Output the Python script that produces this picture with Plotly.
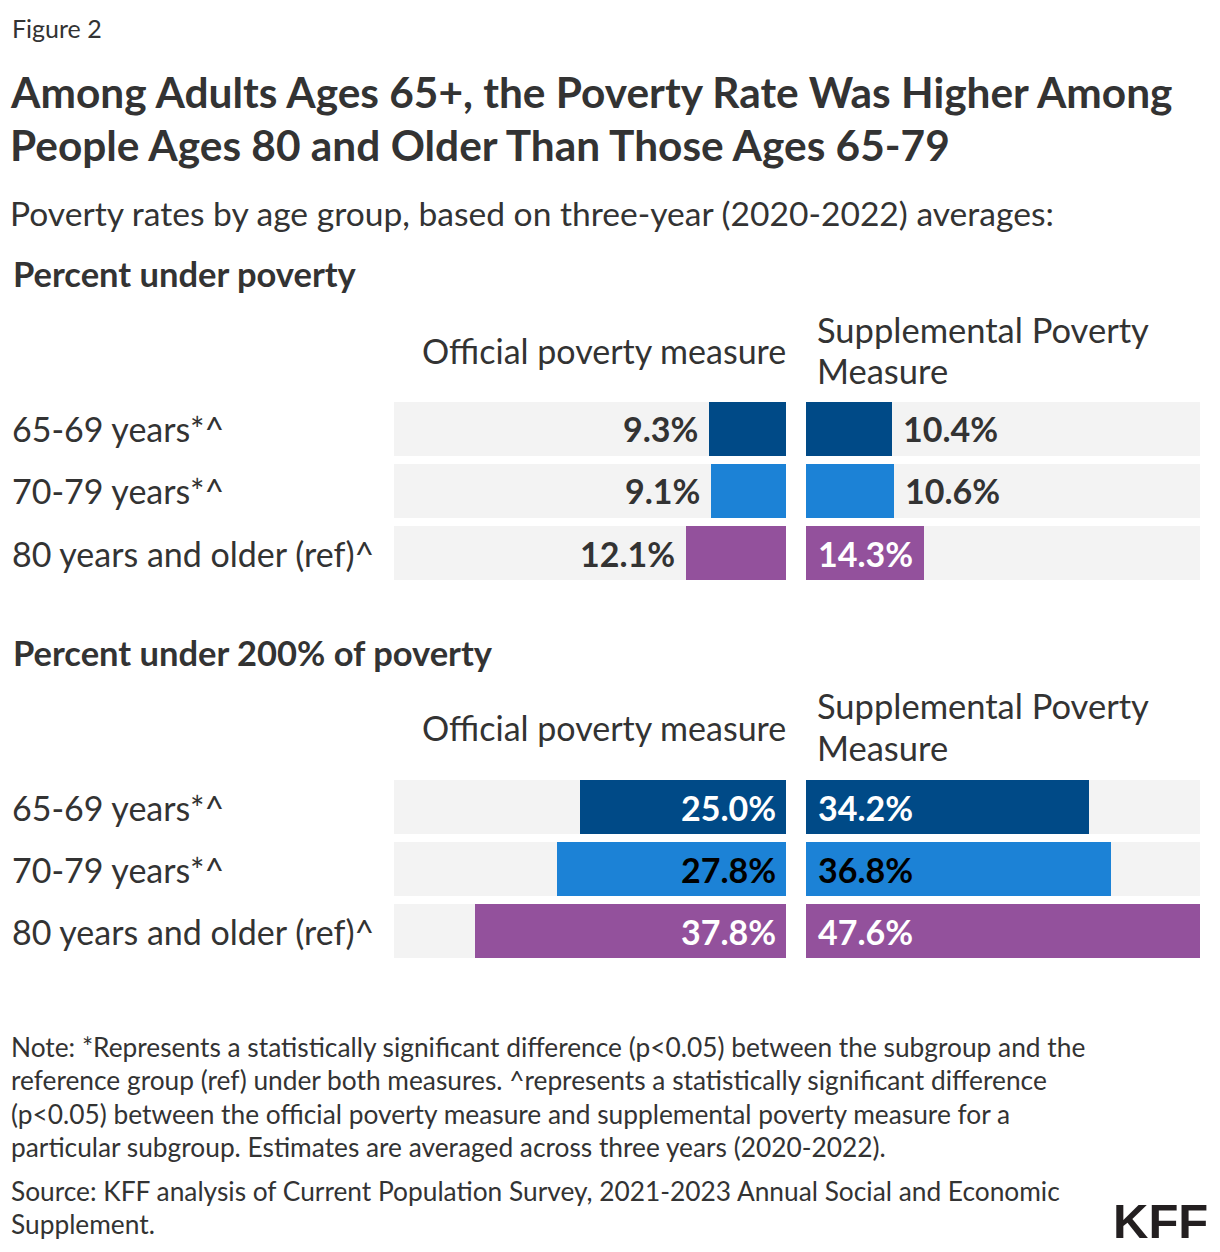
import plotly.graph_objects as go

# page body has an 8px margin: the figure is sized/positioned so that
# reference pixel coordinates map onto the screenshot
OFF = 8
W, H = 1220 - OFF, 1252 - OFF

# ---------------- data ----------------
categories = ["65-69 years*^", "70-79 years*^", "80 years and older (ref)^"]
official_poverty = [9.3, 9.1, 12.1]
spm_poverty = [10.4, 10.6, 14.3]
official_200 = [25.0, 27.8, 37.8]
spm_200 = [34.2, 36.8, 47.6]
bar_colors = ["#004a87", "#1c82d6", "#93519c"]
inside_text_colors = ["#ffffff", "#000000", "#ffffff"]
axis_max = 47.6

section_titles = ["Percent under poverty", "Percent under 200% of poverty"]
col_official = "Official poverty measure"
col_spm_lines = ["Supplemental Poverty", "Measure"]
note_lines = [
    "Note: *Represents a statistically significant difference (p<0.05) between the subgroup and the",
    "reference group (ref) under both measures. ^represents a statistically significant difference",
    "(p<0.05) between the official poverty measure and supplemental poverty measure for a",
    "particular subgroup. Estimates are averaged across three years (2020-2022).",
]
source_lines = [
    "Source: KFF analysis of Current Population Survey, 2021-2023 Annual Social and Economic",
    "Supplement.",
]

FONT = "Lato"
TXT = "#333333"
TRACK = "#f3f3f3"


def fx(px):
    return (px - OFF) / W


def fy(py):
    return 1 - (py - OFF) / H


fig = go.Figure()

# panel definitions: (values, axis suffix, side, x domain px, y domain px, label modes)
panels = [
    (official_poverty, "", "left", (394, 786), (398, 584), ["out", "out", "out"]),
    (spm_poverty, "2", "right", (806, 1200), (398, 584), ["out", "out", "in"]),
    (official_200, "3", "left", (394, 786), (776, 962), ["in", "in", "in"]),
    (spm_200, "4", "right", (806, 1200), (776, 962), ["in", "in", "in"]),
]

annotations = []
layout_axes = {}
bw = 54 / 62

for vals, sfx, side, xd, yd, modes in panels:
    xa = "x" + sfx
    ya = "y" + sfx
    fig.add_trace(go.Bar(
        y=categories, x=[axis_max] * len(categories), orientation="h",
        marker=dict(color=TRACK, line=dict(width=0)), width=bw,
        xaxis=xa, yaxis=ya, hoverinfo="skip", showlegend=False,
    ))
    fig.add_trace(go.Bar(
        y=categories, x=vals, orientation="h",
        marker=dict(color=bar_colors, line=dict(width=0)), width=bw,
        xaxis=xa, yaxis=ya, showlegend=False,
        hovertemplate="%{y}: %{x:.1f}%<extra></extra>",
    ))
    layout_axes["xaxis" + sfx] = dict(
        domain=[fx(xd[0]), fx(xd[1])],
        range=[axis_max, 0] if side == "left" else [0, axis_max],
        visible=False, fixedrange=True, anchor=ya,
    )
    layout_axes["yaxis" + sfx] = dict(
        domain=[fy(yd[1]), fy(yd[0])],
        type="category", categoryorder="array", categoryarray=categories,
        range=[len(categories) - 0.5, -0.5],
        visible=False, fixedrange=True, anchor=xa,
    )
    for i, (cat, v, m) in enumerate(zip(categories, vals, modes)):
        if m == "out":
            xpos, col = v, TXT
            shift = -9 if side == "left" else 9
        else:
            xpos, col = 0, inside_text_colors[i]
            shift = -8 if side == "left" else 10
        annotations.append(dict(
            x=xpos, y=cat, xref=xa, yref=ya,
            text="<b>%.1f%%</b>" % v, showarrow=False,
            xanchor="right" if side == "left" else "left", yanchor="middle",
            xshift=shift, yshift=0,
            font=dict(family=FONT, size=34, color=col),
        ))
    if side == "left":
        for cat in categories:
            annotations.append(dict(
                x=fx(10), y=cat, xref="paper", yref=ya,
                text=cat, showarrow=False, xanchor="left", yanchor="middle",
                font=dict(family=FONT, size=34, color=TXT),
            ))


def txt(x, y, text, size, bold=False, xanchor="left", color=TXT, family=FONT):
    annotations.append(dict(
        x=fx(x), y=fy(y), xref="paper", yref="paper",
        text="<b>%s</b>" % text if bold else text,
        showarrow=False, xanchor=xanchor, yanchor="middle", align=xanchor,
        font=dict(family=family, size=size, color=color),
    ))


txt(10, 28, "Figure 2", 25)
txt(8, 92, "Among Adults Ages 65+, the Poverty Rate Was Higher Among", 42.4, bold=True)
txt(8, 144, "People Ages 80 and Older Than Those Ages 65-79", 42.4, bold=True)
txt(8, 213, "Poverty rates by age group, based on three-year (2020-2022) averages:", 33.6)

for sec_y, head_y, title in [(274, 350, section_titles[0]), (652, 727, section_titles[1])]:
    txt(11, sec_y, title, 34.5, bold=True)
    txt(788, head_y, col_official, 34, xanchor="right")
    txt(815, head_y - 21, col_spm_lines[0], 34.5)
    txt(815, head_y + 20, col_spm_lines[1], 34.5)

for i, line in enumerate(note_lines):
    txt(9, 1047 + 33.4 * i, line, 26.3)
for i, line in enumerate(source_lines):
    txt(9, 1191 + 33.4 * i, line, 26.3)

txt(1210, 1221, "KFF", 49, bold=True, xanchor="right", color="#231f20",
    family="Liberation Sans")

fig.update_layout(
    width=W, height=H, margin=dict(l=0, r=0, t=0, b=0),
    paper_bgcolor="white", plot_bgcolor="white",
    barmode="overlay", bargap=0, showlegend=False,
    annotations=annotations, **layout_axes,
)

fig.write_html("out.html", config={"displayModeBar": False})
